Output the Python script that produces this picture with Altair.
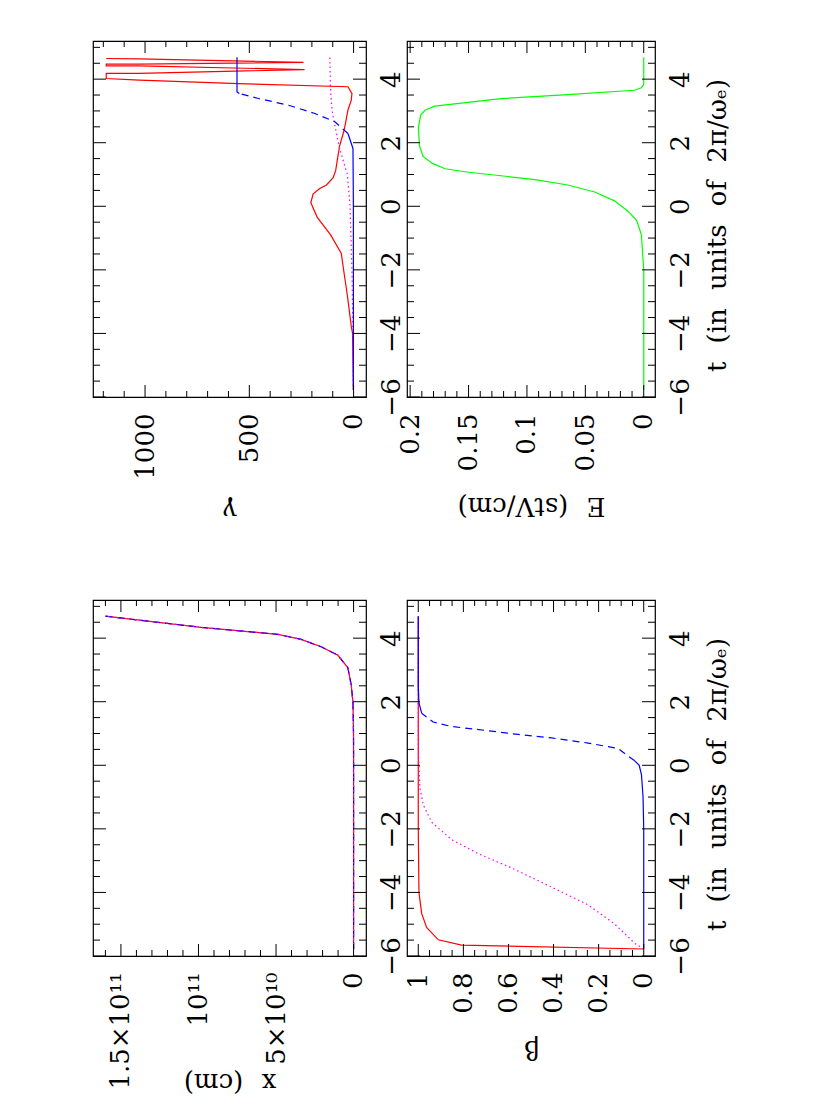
import altair as alt
import pandas as pd

FONT = "DejaVu Serif"
FS = 26

# ---------------- data ----------------
T_DOMAIN = [-6.0, 5.2]
T_MAJOR = [-6, -4, -2, 0, 2, 4]
T_MINOR = [-5.5, -5, -4.5, -3.5, -3, -2.5, -1.5, -1, -0.5, 0.5, 1, 1.5, 2.5, 3, 3.5, 4.5, 5]

# panel x (cm): the three curves coincide
X_T = [-5.78, -4, -2, 0, 1.0, 1.97, 2.52, 3.07, 3.46, 3.73, 3.96, 4.12, 4.34, 4.69]
X_CM = [0, 0, 0, 0, 0.05e9, 0.4e9, 1.5e9, 3.7e9, 1.01e10, 2.09e10, 3.38e10, 4.88e10, 9.83e10, 1.60e11]
X_DOMAIN = [-8.0e9, 1.68e11]
X_MAJOR = [0, 5e10, 1e11, 1.5e11]
X_MINOR = [1e10, 2e10, 3e10, 4e10, 6e10, 7e10, 8e10, 9e10, 1.1e11, 1.2e11, 1.3e11, 1.4e11, 1.6e11]
X_LABELS = ["0", "5×10¹⁰", "10¹¹", "1.5×10¹¹"]

# panel beta
BR_T = [-5.78, -5.66, -5.49, -5.10, -4.66, -4.0, -2.0, 4.69]
BR_V = [0, 0.808, 0.911, 0.963, 0.985, 0.997, 1.0, 1.0]
BM_T = [-5.78, -5.6, -5.0, -4.39, -3.78, -3.23, -2.78, -2.34, -1.79, -1.24, -0.69, 0.5, 4.69]
BM_V = [0, 0.04, 0.128, 0.247, 0.424, 0.586, 0.734, 0.852, 0.941, 0.978, 0.993, 1.0, 1.0]
BB_T = [-5.78, -2, -1, -0.3, 0, 0.14, 0.53, 0.70, 0.86, 0.97, 1.10, 1.22, 1.36, 1.64, 1.97, 2.5, 4.69]
BB_V = [0, 0.0, 0.003, 0.01, 0.02, 0.04, 0.114, 0.247, 0.409, 0.557, 0.705, 0.852, 0.934, 0.985, 0.997, 1.0, 1.0]
B_DOMAIN = [-0.05, 1.05]
B_MAJOR = [0, 0.2, 0.4, 0.6, 0.8, 1.0]
B_MINOR = [0.05, 0.1, 0.15, 0.25, 0.3, 0.35, 0.45, 0.5, 0.55, 0.65, 0.7, 0.75, 0.85, 0.9, 0.95]

# panel gamma
GR_T = [-5.78, -4.0, -3.78, -2.8, -2.13, -1.48, -0.9, -0.34, 0.11, 0.39, 0.56, 0.67, 0.90, 1.12, 1.46, 1.90,
        2.40, 3.03, 3.34, 3.55,
        3.76, 3.86, 3.97, 4.02, 4.18, 4.18, 4.30, 4.42, 4.42, 4.47, 4.47, 4.53, 4.64, 4.65]
GR_V = [1, 5, 11, 30, 45, 59, 110, 175, 205, 194, 162, 130, 98, 86, 78, 67,
        45, 27, 11, 8,
        27, 551, 1027, 1186, 1186, 1030, 235, 1030, 1186, 1186, 1030, 240, 1030, 1186]
GM_T = [-5.78, -4, -2, 0, 1, 1.82, 2.55, 3.0, 3.5, 3.76, 4.69]
GM_V = [1, 3, 8, 17, 30, 67, 90, 103, 109, 111, 114]
GB_T = [-5.78, 0, 1.0, 1.82, 2.29, 2.66, 2.92, 3.18, 3.39, 3.55, 3.60, 4.69]
GB_V = [1, 1, 2, 3, 27, 90, 186, 312, 455, 548, 559, 559]
G_DOMAIN = [-59.5, 1249.5]
G_MAJOR = [0, 500, 1000]
G_MINOR = [100, 200, 300, 400, 600, 700, 800, 900, 1100, 1200]

# panel E
E_T = [-5.78, -2, -0.9, -0.45, -0.17, 0.17, 0.45, 0.67, 0.84, 0.96, 1.07, 1.18, 1.35, 1.57, 1.91, 2.47,
       2.87, 3.03, 3.15, 3.39, 3.51, 3.65, 3.73, 3.82, 4.69]
E_V = [0, 0, 0.002, 0.006, 0.013, 0.025, 0.042, 0.065, 0.093, 0.122, 0.150, 0.170, 0.181, 0.189, 0.192, 0.193,
       0.191, 0.187, 0.179, 0.122, 0.065, 0.008, 0.002, 0, 0]
E_DOMAIN = [-0.00965, 0.2027]
E_MAJOR = [0, 0.05, 0.1, 0.15, 0.2]
E_MINOR = [0.01, 0.02, 0.03, 0.04, 0.06, 0.07, 0.08, 0.09, 0.11, 0.12, 0.13, 0.14, 0.16, 0.17, 0.18, 0.19]

SP = "\u2002\u2009"
T_TITLE = f"t{SP}(in{SP}units{SP}of{SP}2π/ωₑ)"

RED, BLUE, MAG, GREEN = "#ff0000", "#0000ff", "#ff00ff", "#00ff00"
DASH = [7, 5]
DOT = [1.5, 3]


def series(ts, vs, lo=None, hi=None):
    rows = [(t, v) for t, v in zip(ts, vs)
            if (lo is None or t >= lo) and (hi is None or t <= hi)]
    return pd.DataFrame({"t": [r[0] for r in rows], "val": [r[1] for r in rows],
                         "i": list(range(len(rows)))})


def panel(lines, vdomain, vmajor, vminor, vtitle, ttitle, W, H, title_y,
          label_expr=None, fmt=None):
    xaxis = dict(orient="bottom", values=vmajor, labelAngle=270, ticks=False, domain=False,
                 grid=False, labelPadding=16, title=vtitle, titleAngle=180,
                 titleX=W / 2, titleY=title_y, titleAlign="center", titleBaseline="middle")
    if label_expr is not None:
        xaxis["labelExpr"] = label_expr
    if fmt is not None:
        xaxis["format"] = fmt
    yaxis = dict(orient="right", values=T_MAJOR, labelAngle=270, ticks=False, domain=False,
                 grid=False, labelPadding=12, format="d", title=ttitle)
    if ttitle is not None:
        yaxis.update(titleAngle=270, titleX=62, titleY=H / 2 + 6, titleAlign="center",
                     titleBaseline="middle")
    xenc = alt.X("val:Q", scale=alt.Scale(domain=vdomain, reverse=True, nice=False, zero=False),
                 axis=alt.Axis(**xaxis))
    yenc = alt.Y("t:Q", scale=alt.Scale(domain=T_DOMAIN, nice=False, zero=False),
                 axis=alt.Axis(**yaxis))
    layers = []
    for df, color, dash in lines:
        kw = dict(color=color, strokeWidth=1.2, clip=True)
        if dash is not None:
            kw["strokeDash"] = dash
        layers.append(alt.Chart(df).mark_line(**kw).encode(x=xenc, y=yenc, order="i:Q"))
    tick_kw = dict(color="#000000", strokeWidth=1)
    for vals, ln in ((T_MAJOR, 13), (T_MINOR, 7)):
        d = pd.DataFrame({"t": vals})
        layers.append(alt.Chart(d).mark_rule(**tick_kw).encode(
            y=yenc, x=alt.value(0), x2=alt.value(ln)))
        layers.append(alt.Chart(d).mark_rule(**tick_kw).encode(
            y=yenc, x=alt.value(W - ln), x2=alt.value(W)))
    for vals, ln in ((vmajor, 12), (vminor, 6)):
        d = pd.DataFrame({"val": vals})
        layers.append(alt.Chart(d).mark_rule(**tick_kw).encode(
            x=xenc, y=alt.value(0), y2=alt.value(ln)))
        layers.append(alt.Chart(d).mark_rule(**tick_kw).encode(
            x=xenc, y=alt.value(H - ln), y2=alt.value(H)))
    return alt.layer(*layers).properties(width=W, height=H)


WL, WR, H = 273, 248, 356

x_expr = ("datum.value > 1.2e11 ? '%s' : datum.value > 7e10 ? '%s' : datum.value > 2e10 ? '%s' : '%s'"
          % (X_LABELS[3], X_LABELS[2], X_LABELS[1], X_LABELS[0]))

pA = panel([(series(X_T, X_CM), RED, None), (series(X_T, X_CM), BLUE, DASH),
            (series(X_T, X_CM), MAG, DOT)],
           X_DOMAIN, X_MAJOR, X_MINOR, f"x{SP}(cm)", None, WL, H, 125, label_expr=x_expr)
pB = panel([(series(BR_T, BR_V), RED, None), (series(BM_T, BM_V), MAG, DOT),
            (series(BB_T, BB_V, hi=0.14), BLUE, None),
            (series(BB_T, BB_V, lo=0.14, hi=1.64), BLUE, DASH),
            (series(BB_T, BB_V, lo=1.64), BLUE, None)],
           B_DOMAIN, B_MAJOR, B_MINOR, "β", T_TITLE, WR, H, 92, fmt="~g")
pC = panel([(series(GR_T, GR_V), RED, None), (series(GM_T, GM_V), MAG, DOT),
            (series(GB_T, GB_V, hi=2.29), BLUE, None),
            (series(GB_T, GB_V, lo=2.29, hi=3.55), BLUE, DASH),
            (series(GB_T, GB_V, lo=3.55), BLUE, None)],
           G_DOMAIN, G_MAJOR, G_MINOR, "γ", None, WL, H, 112, fmt="d")
pD = panel([(series(E_T, E_V), GREEN, None)],
           E_DOMAIN, E_MAJOR, E_MINOR, f"E{SP}(stV/cm)", T_TITLE, WR, H, 108, fmt="~g")

chart = alt.concat(pC, pD, pA, pB, columns=2, spacing={"row": 203, "column": 41}, bounds="flush").properties(
    padding={"left": 83, "top": 31, "right": 5, "bottom": 5}, background="#ffffff"
).configure_view(stroke="#000000", strokeWidth=1.2).configure_axis(
    labelFont=FONT, labelFontSize=FS, labelColor="#000000",
    titleFont=FONT, titleFontSize=FS, titleColor="#000000", titleFontWeight="normal"
)

chart.save("out.html", embed_options={"renderer": "svg", "actions": False})
